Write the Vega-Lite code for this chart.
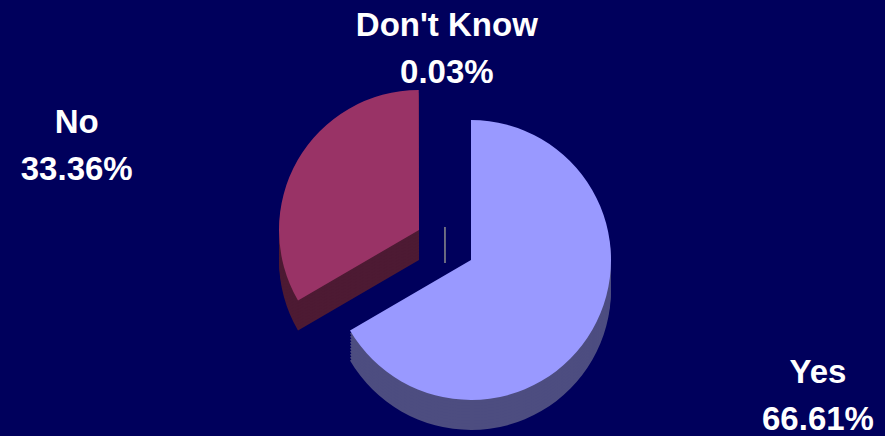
{
  "$schema": "https://vega.github.io/schema/vega-lite/v6.json",
  "width": 885,
  "height": 436,
  "autosize": {"type": "none"},
  "padding": 0,
  "background": "#00005C",
  "config": {
    "view": {
      "stroke": null,
      "fill": {
        "gradient": "linear",
        "x1": 0, "y1": 0, "x2": 0, "y2": 1,
        "stops": [
          {"offset": 0, "color": "#000072"},
          {"offset": 1, "color": "#000046"}
        ]
      }
    },
    "text": {"font": "Liberation Sans", "fontSize": 33, "fontWeight": "bold", "letterSpacing": 0.6, "fill": "white", "align": "center", "baseline": "middle", "lineBreak": "\n", "lineHeight": 47}
  },
  "data": {
    "values": [
      {"answer": "Yes", "value": 66.61, "label": "Yes\n66.61%"},
      {"answer": "No", "value": 33.36, "label": "No\n33.36%"},
      {"answer": "Don't Know", "value": 0.03, "label": "Don't Know\n0.03%"}
    ]
  },
  "transform": [
    {"stack": "value", "groupby": [], "sort": [{"field": "value", "order": "descending"}], "as": ["v0", "v1"]}
  ],
  "encoding": {
    "theta": {"field": "v0", "type": "quantitative", "scale": {"domain": [0, 100]}},
    "theta2": {"field": "v1"}
  },
  "layer": [
    {"transform": [{"filter": "datum.answer === 'No'"}], "mark": {"type": "arc", "radius": 140, "xOffset": -23.5, "yOffset": 42, "fill": "#4D1A33"}},
    {"transform": [{"filter": "datum.answer === 'No'"}], "mark": {"type": "arc", "radius": 140, "xOffset": -23.5, "yOffset": 39, "fill": "#4D1A33"}},
    {"transform": [{"filter": "datum.answer === 'No'"}], "mark": {"type": "arc", "radius": 140, "xOffset": -23.5, "yOffset": 36, "fill": "#4D1A33"}},
    {"transform": [{"filter": "datum.answer === 'No'"}], "mark": {"type": "arc", "radius": 140, "xOffset": -23.5, "yOffset": 33, "fill": "#4D1A33"}},
    {"transform": [{"filter": "datum.answer === 'No'"}], "mark": {"type": "arc", "radius": 140, "xOffset": -23.5, "yOffset": 30, "fill": "#4D1A33"}},
    {"transform": [{"filter": "datum.answer === 'No'"}], "mark": {"type": "arc", "radius": 140, "xOffset": -23.5, "yOffset": 27, "fill": "#4D1A33"}},
    {"transform": [{"filter": "datum.answer === 'No'"}], "mark": {"type": "arc", "radius": 140, "xOffset": -23.5, "yOffset": 24, "fill": "#4D1A33"}},
    {"transform": [{"filter": "datum.answer === 'No'"}], "mark": {"type": "arc", "radius": 140, "xOffset": -23.5, "yOffset": 21, "fill": "#4D1A33"}},
    {"transform": [{"filter": "datum.answer === 'No'"}], "mark": {"type": "arc", "radius": 140, "xOffset": -23.5, "yOffset": 18, "fill": "#4D1A33"}},
    {"transform": [{"filter": "datum.answer === 'No'"}], "mark": {"type": "arc", "radius": 140, "xOffset": -23.5, "yOffset": 15, "fill": "#4D1A33"}},
    {"transform": [{"filter": "datum.answer === 'No'"}], "mark": {"type": "arc", "radius": 140, "xOffset": -23.5, "yOffset": 12, "fill": "#993366"}},
    {"transform": [{"filter": "datum.answer === \"Don't Know\""}], "mark": {"type": "arc", "radius": 36, "xOffset": 2.5, "yOffset": 45, "fill": "#8C8C8C", "stroke": "#8C8C8C", "strokeWidth": 1}},
    {"transform": [{"filter": "datum.answer === 'Yes'"}], "mark": {"type": "arc", "radius": 140, "xOffset": 28.5, "yOffset": 72, "fill": "#4D4D80"}},
    {"transform": [{"filter": "datum.answer === 'Yes'"}], "mark": {"type": "arc", "radius": 140, "xOffset": 28.5, "yOffset": 69, "fill": "#4D4D80"}},
    {"transform": [{"filter": "datum.answer === 'Yes'"}], "mark": {"type": "arc", "radius": 140, "xOffset": 28.5, "yOffset": 66, "fill": "#4D4D80"}},
    {"transform": [{"filter": "datum.answer === 'Yes'"}], "mark": {"type": "arc", "radius": 140, "xOffset": 28.5, "yOffset": 63, "fill": "#4D4D80"}},
    {"transform": [{"filter": "datum.answer === 'Yes'"}], "mark": {"type": "arc", "radius": 140, "xOffset": 28.5, "yOffset": 60, "fill": "#4D4D80"}},
    {"transform": [{"filter": "datum.answer === 'Yes'"}], "mark": {"type": "arc", "radius": 140, "xOffset": 28.5, "yOffset": 57, "fill": "#4D4D80"}},
    {"transform": [{"filter": "datum.answer === 'Yes'"}], "mark": {"type": "arc", "radius": 140, "xOffset": 28.5, "yOffset": 54, "fill": "#4D4D80"}},
    {"transform": [{"filter": "datum.answer === 'Yes'"}], "mark": {"type": "arc", "radius": 140, "xOffset": 28.5, "yOffset": 51, "fill": "#4D4D80"}},
    {"transform": [{"filter": "datum.answer === 'Yes'"}], "mark": {"type": "arc", "radius": 140, "xOffset": 28.5, "yOffset": 48, "fill": "#4D4D80"}},
    {"transform": [{"filter": "datum.answer === 'Yes'"}], "mark": {"type": "arc", "radius": 140, "xOffset": 28.5, "yOffset": 45, "fill": "#4D4D80"}},
    {"transform": [{"filter": "datum.answer === 'Yes'"}], "mark": {"type": "arc", "radius": 140, "xOffset": 28.5, "yOffset": 42, "fill": "#9999FF"}},
    {
      "mark": {"type": "text", "radius": 169, "dx": 4.5, "dy": -23},
      "encoding": {
        "theta": {"field": "value", "type": "quantitative", "stack": true, "scale": {"domain": [0, 100]}},
        "theta2": null,
        "order": {"field": "value", "sort": "descending"},
        "text": {"condition": {"test": "datum.answer === \"Don't Know\"", "field": "label"}, "value": ""}
      }
    },
    {
      "mark": {"type": "text", "radius": 145, "dx": -240, "dy": -23},
      "encoding": {
        "theta": {"field": "value", "type": "quantitative", "stack": true, "scale": {"domain": [0, 100]}},
        "theta2": null,
        "order": {"field": "value", "sort": "descending"},
        "text": {"condition": {"test": "datum.answer === 'No'", "field": "label"}, "value": ""}
      }
    },
    {
      "mark": {"type": "text", "radius": 357, "dx": 66, "dy": -23},
      "encoding": {
        "theta": {"field": "value", "type": "quantitative", "stack": true, "scale": {"domain": [0, 100]}},
        "theta2": null,
        "order": {"field": "value", "sort": "descending"},
        "text": {"condition": {"test": "datum.answer === 'Yes'", "field": "label"}, "value": ""}
      }
    }
  ]
}
